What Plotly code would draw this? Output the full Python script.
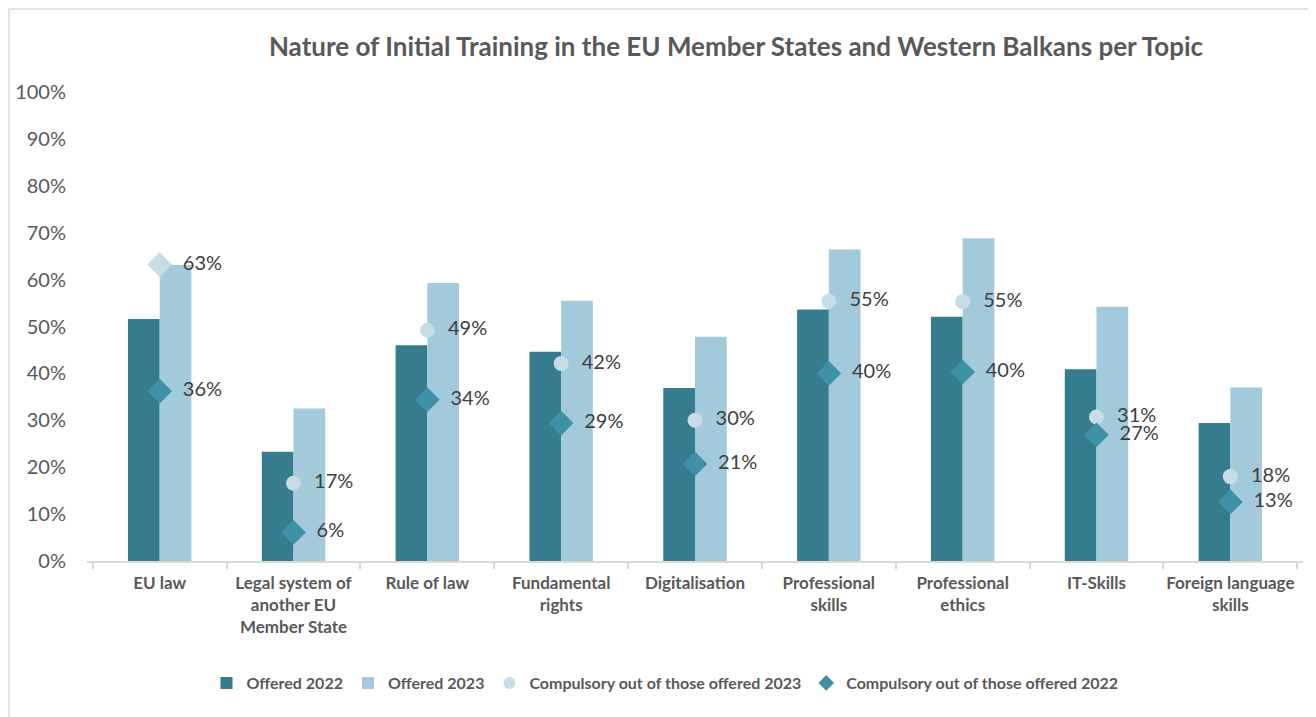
import plotly.graph_objects as go

categories = ["EU law", "Legal system of<br>another EU<br>Member State", "Rule of law",
              "Fundamental<br>rights", "Digitalisation", "Professional<br>skills",
              "Professional<br>ethics", "IT-Skills", "Foreign language<br>skills"]
offered_2022 = [0.516, 0.233, 0.460, 0.446, 0.369, 0.536, 0.521, 0.409, 0.294]
offered_2023 = [0.631, 0.325, 0.593, 0.555, 0.478, 0.664, 0.688, 0.542, 0.370]
compulsory_2023 = [0.632, 0.166, 0.492, 0.421, 0.300, 0.554, 0.553, 0.307, 0.180]
compulsory_2022 = [0.362, 0.061, 0.344, 0.294, 0.207, 0.400, 0.403, 0.269, 0.126]
y_ticks = [0, 0.1, 0.2, 0.3, 0.4, 0.5, 0.6, 0.7, 0.8, 0.9, 1.0]

C_DARK = "#367C8F"
C_LIGHT = "#A2CADB"
C_CIRCLE = "#C6DDE5"
C_DIAMOND = "#3F91A7"
FONT = "Lato"
TXT = "#404040"
GRAY = "#595959"
LBL = "  %{y:.0%}"

fig = go.Figure()
fig.add_trace(go.Bar(x=categories, y=offered_2022, name="Offered 2022",
                     marker=dict(color=C_DARK, line=dict(width=0))))
fig.add_trace(go.Bar(x=categories, y=offered_2023, name="Offered 2023",
                     marker=dict(color=C_LIGHT, line=dict(width=0))))
fig.add_trace(go.Scatter(x=categories[1:], y=compulsory_2023[1:], mode="markers+text",
                         name="Compulsory out of those offered 2023",
                         marker=dict(symbol="circle", size=15, color=C_CIRCLE),
                         texttemplate=LBL, textposition="middle right",
                         textfont=dict(family=FONT, size=20, color=TXT)))
fig.add_trace(go.Scatter(x=categories[:1], y=compulsory_2023[:1], mode="markers+text",
                         showlegend=False,
                         marker=dict(symbol="diamond", size=19, color=C_CIRCLE),
                         texttemplate=LBL, textposition="middle right",
                         textfont=dict(family=FONT, size=20, color=TXT)))
fig.add_trace(go.Scatter(x=categories, y=compulsory_2022, mode="markers+text",
                         name="Compulsory out of those offered 2022",
                         marker=dict(symbol="diamond", size=19, color=C_DIAMOND),
                         texttemplate=LBL, textposition="middle right",
                         textfont=dict(family=FONT, size=20, color=TXT)))

# page has an 8px body margin, so the figure is 8px smaller and margins shifted by 8px
PL, PR, PT, PB = 87, 1303, 92, 561   # plot-area edges in page pixels
fig.update_layout(
    width=1308, height=709,
    margin=dict(l=PL - 8, r=1316 - PR, t=PT - 8, b=717 - PB, autoexpand=False),
    paper_bgcolor="white", plot_bgcolor="white",
    barmode="group", bargap=0.526, bargroupgap=0,
    title=dict(text="<b>Nature of Initial Training in the EU Member States and Western Balkans per Topic</b>",
               x=(736 - 8) / 1308, xref="container", xanchor="center",
               y=1 - 39 / 709, yref="container", yanchor="middle",
               font=dict(family=FONT, size=26, color=GRAY)),
    font=dict(family=FONT, color=GRAY),
    legend=dict(orientation="h", x=(665 - 8) / 1308, xref="container", xanchor="center",
                y=1 - 675 / 709, yref="container", yanchor="middle",
                font=dict(family=FONT, size=16, color=GRAY, weight="bold"),
                traceorder="normal", itemwidth=30, itemsizing="constant"),
    showlegend=True,
    shapes=[dict(type="rect", xref="paper", yref="paper",
                 x0=(9 - PL) / (PR - PL), x1=(1312 - PL) / (PR - PL),
                 y0=(PB - 730) / (PB - PT), y1=(PB - 9) / (PB - PT),
                 line=dict(color="#D9D9D9", width=1.5), fillcolor="rgba(0,0,0,0)",
                 layer="below")],
)
fig.update_yaxes(range=[0, 1.0], tickvals=y_ticks, tickformat=".0%",
                 showgrid=False, zeroline=False, showline=False,
                 ticklabelstandoff=20,
                 tickfont=dict(family=FONT, size=20, color=GRAY))
fig.update_xaxes(showline=True, linecolor="#D9D9D9", linewidth=1.5,
                 ticks="outside", tickson="boundaries", ticklen=6, tickcolor="#D9D9D9",
                 tickwidth=1.5,
                 tickfont=dict(family=FONT, size=17, color=GRAY, weight="bold"),
                 tickangle=0, ticklabelstandoff=6)

fig.write_html("out.html")
